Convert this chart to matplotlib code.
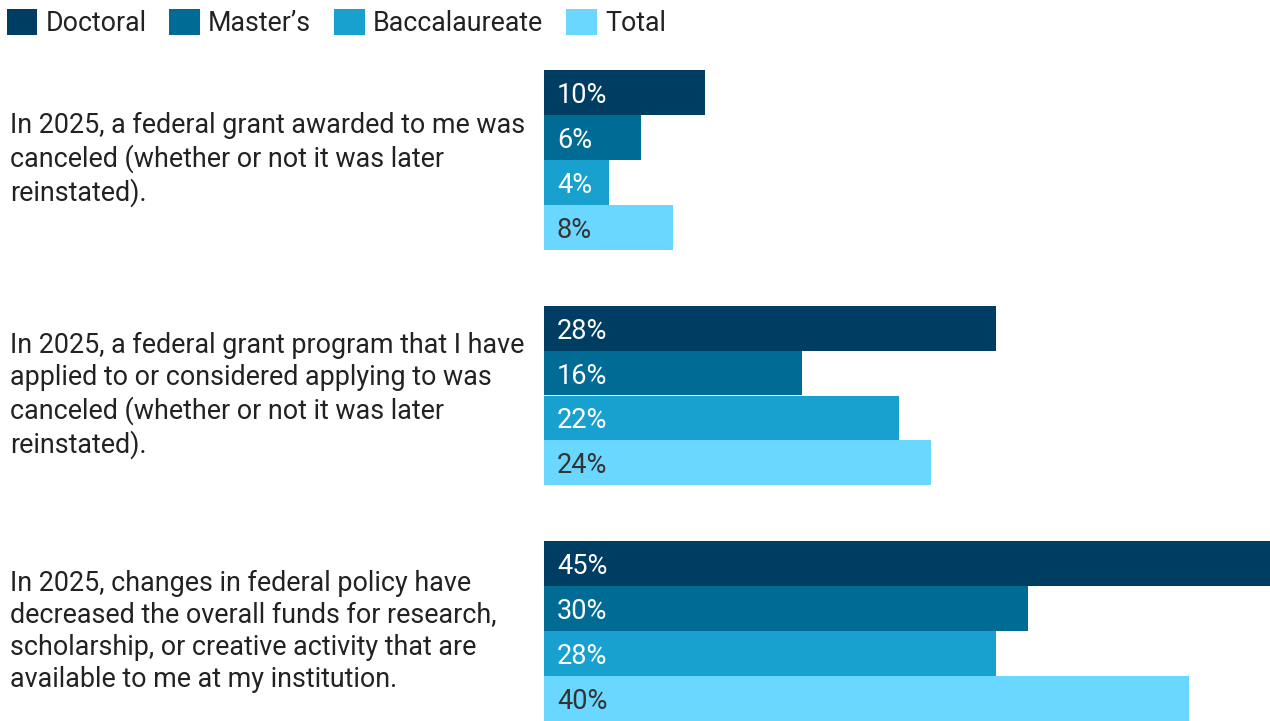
import matplotlib.pyplot as plt
from matplotlib.patches import Patch
import numpy as np

plt.rcParams['font.family'] = ['Roboto', 'DejaVu Sans']

# data
questions = [
    "In 2025, a federal grant awarded to me was\ncanceled (whether or not it was later\nreinstated).",
    "In 2025, a federal grant program that I have\napplied to or considered applying to was\ncanceled (whether or not it was later\nreinstated).",
    "In 2025, changes in federal policy have\ndecreased the overall funds for research,\nscholarship, or creative activity that are\navailable to me at my institution.",
]
series = ["Doctoral", "Master\u2019s", "Baccalaureate", "Total"]
doctoral = [10, 28, 45]
masters = [6, 16, 30]
baccalaureate = [4, 22, 28]
total = [8, 24, 40]

colors = ["#003d63", "#006c96", "#18a1cf", "#69d7ff"]
label_colors = ["white", "white", "white", "#333333"]

W, H = 1270, 721
fig = plt.figure(figsize=(W / 100, H / 100), dpi=100)
ax = fig.add_axes([544 / W, 0, 1 - 544 / W, (H - 70) / H])

values = [doctoral, masters, baccalaureate, total]
gap = 1.25
for g in range(len(questions)):
    base = g * (len(series) + gap)
    for i, vals in enumerate(values):
        y = base + i + 0.5
        ax.barh(y, vals[g], height=1.0, color=colors[i], edgecolor='none')
        ax.text(0.8, y, f"{vals[g]}%", va='center_baseline', ha='left',
                color=label_colors[i], fontsize=19.5)
    ax.text(-534 / 726 * 45, base + len(series) / 2, questions[g], ha='left', va='center',
            fontsize=19.4, color='#222222', linespacing=1.24, clip_on=False)

ax.set_xlim(0, 45)
ax.set_ylim(len(questions) * len(series) + (len(questions) - 1) * gap, 0)
ax.axis('off')

handles = [Patch(facecolor=c, edgecolor='none') for c in colors]
fig.legend(handles, series, loc='upper left', bbox_to_anchor=(-0.0075, 1.01), ncol=4,
           frameon=False, fontsize=19.3, handlelength=1.15, handleheight=1.15,
           handletextpad=0.3, columnspacing=0.85, borderaxespad=0.2,
           labelcolor='#222222')

fig.savefig("out.png", dpi=100, facecolor='white')
